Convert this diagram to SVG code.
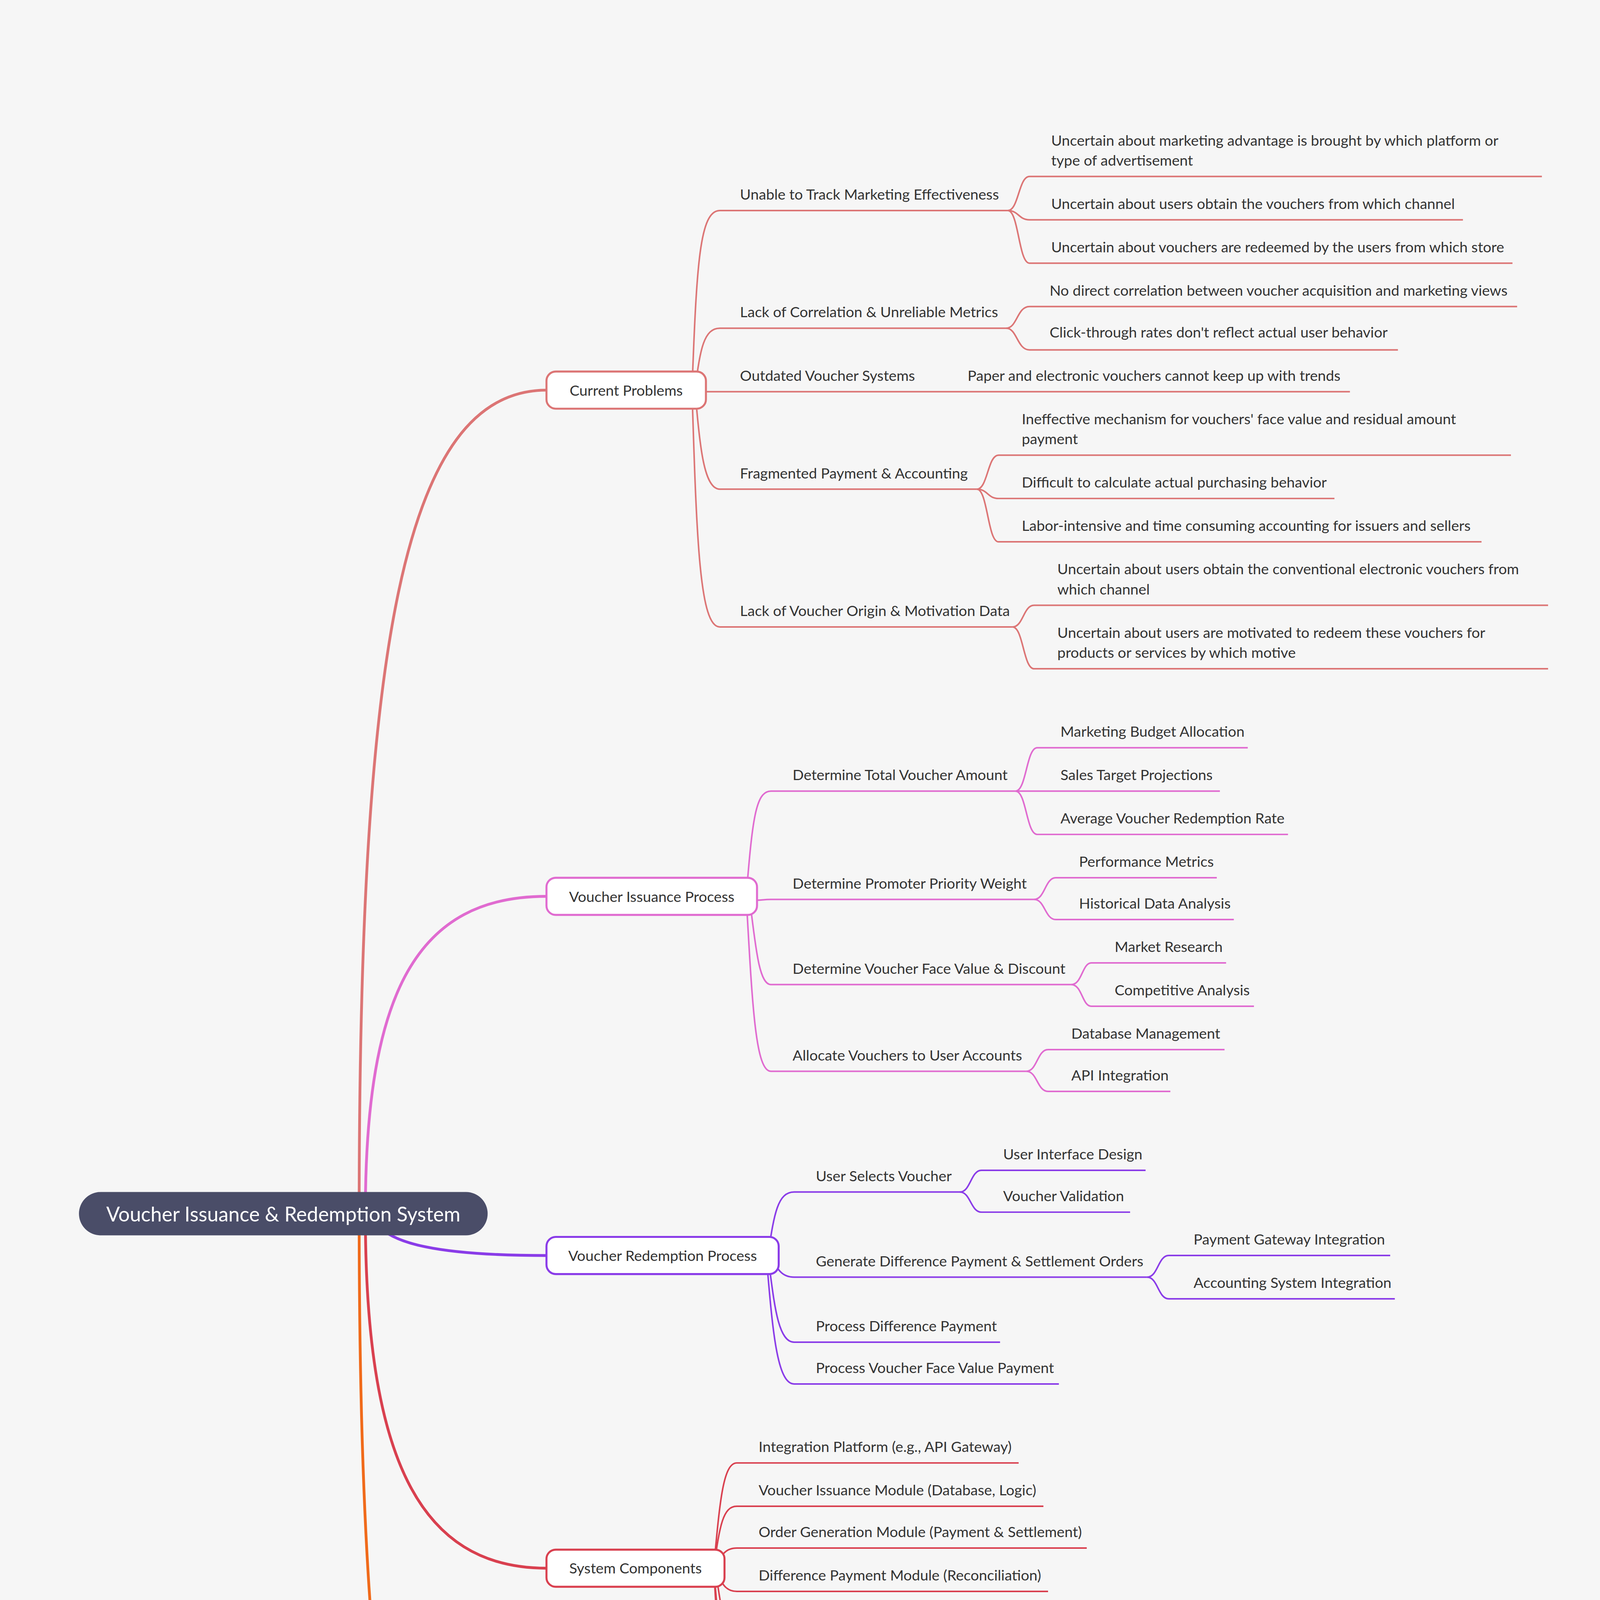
<svg xmlns="http://www.w3.org/2000/svg" width="4732" height="6216" viewBox="0 0 4732 6216">
<style>
text{font-family:Lato,"Open Sans","Liberation Sans",sans-serif;font-size:9.5px;fill:#333}
.c path{fill:none;stroke-width:1}
.b rect{fill:#fff;stroke-width:1.3}
.r1{stroke:#dc7575}.r2{stroke:#e06bd0}.r3{stroke:#8a3ce8}.r4{stroke:#d9404f}.r5{stroke:#f06a1a}
</style>
<rect width="4732" height="6216" fill="#f6f6f6"/>
<g transform="scale(3.9631)">
<g id="connectors" class="c">
<path class="r1" style="stroke-width:1.8" d="M232 784 C232 420 260 252 353 252"/>
<path class="r2" style="stroke-width:1.8" d="M236 784 C236 640 270 579 353 579"/>
<path class="r3" style="stroke-width:1.8" d="M240 784 C245 805 290 811 353 811"/>
<path class="r4" style="stroke-width:1.8" d="M236 784 C236 940 270 1013 353 1013"/>
<path class="r5" style="stroke-width:1.8" d="M232 784 C232 1140 260 1313 353 1313"/>
<g class="r1">
<path d="M447 252 C450 170 452 136 465 136 L651 136"/>
<path d="M449 252 C452 225 455 212 465 212 L650 212"/>
<path d="M456 253 L600 253 L610 253 L872 253"/>
<path d="M449 252 C452 290 455 316 465 316 L631 316"/>
<path d="M447 252 C450 350 452 405 465 405 L654 405"/>
<path d="M651 136 C658 136 658 114 665 114 L996 114"/>
<path d="M651 136 C658 136 658 142 665 142 L945 142"/>
<path d="M651 136 C658 136 658 170 665 170 L977 170"/>
<path d="M650 212 C657 212 657 198 665 198 L980 198"/>
<path d="M650 212 C657 212 657 226 665 226 L903 226"/>
<path d="M631 316 C638 316 638 294 645 294 L976 294"/>
<path d="M631 316 C638 316 638 322 645 322 L862 322"/>
<path d="M631 316 C638 316 638 350 645 350 L957 350"/>
<path d="M654 405 C661 405 661 391 668 391 L1000 391"/>
<path d="M654 405 C661 405 661 432 668 432 L1000 432"/>
</g>
<g class="r2">
<path d="M482 579 C486 530 488 511 498 511 L656 511"/>
<path d="M484 579 C488 583 490 581 498 581 L668 581"/>
<path d="M484 579 C488 610 490 636 498 636 L692 636"/>
<path d="M482 579 C486 650 488 692 498 692 L663 692"/>
<path d="M656 511 C663 511 663 483 670 483 L806 483"/>
<path d="M656 511 C663 511 663 511 670 511 L788 511"/>
<path d="M656 511 C663 511 663 539 670 539 L832 539"/>
<path d="M668 581 C675 581 675 567 682 567 L786 567"/>
<path d="M668 581 C675 581 675 594 682 594 L797 594"/>
<path d="M692 636 C699 636 699 622 705 622 L792 622"/>
<path d="M692 636 C699 636 699 650 705 650 L810 650"/>
<path d="M663 692 C670 692 670 678 677 678 L791 678"/>
<path d="M663 692 C670 692 670 705 677 705 L756 705"/>
</g>
<g class="r3">
<path d="M496 811 C500 785 502 770 513 770 L620 770"/>
<path d="M498 811 C502 820 505 825 513 825 L741 825"/>
<path d="M496 811 C500 840 502 867 513 867 L646 867"/>
<path d="M495 811 C499 860 502 894 513 894 L684 894"/>
<path d="M620 770 C627 770 627 756 634 756 L740 756"/>
<path d="M620 770 C627 770 627 783 634 783 L730 783"/>
<path d="M741 825 C748 825 748 811 755 811 L898 811"/>
<path d="M741 825 C748 825 748 839 755 839 L901 839"/>
</g>
<g class="r4">
<path d="M461 1013 C465 970 467 945 476 945 L658 945"/>
<path d="M461 1013 C465 985 467 973 476 973 L674 973"/>
<path d="M462 1013 C466 1005 468 1000 476 1000 L702 1000"/>
<path d="M462 1013 C466 1022 468 1028 476 1028 L677 1028"/>
<path d="M462 1013 C466 1040 468 1056 476 1056 L685 1056"/>
<path d="M461 1013 C465 1060 467 1084 476 1084 L705 1084"/>
<path d="M461 1013 C465 1080 467 1111 476 1111 L713 1111"/>
</g>
<g class="r5">
<path d="M408 1313 C412 1220 414 1176 424 1176 L645 1176"/>
<path d="M410 1313 C414 1295 416 1287 424 1287 L651 1287"/>
<path d="M409 1313 C413 1350 415 1384 424 1384 L558 1384"/>
<path d="M408 1313 C412 1370 415 1412 424 1412 L633 1412"/>
<path d="M408 1313 C412 1390 415 1439 424 1439 L619 1439"/>
<path d="M408 1313 C412 1410 415 1467 424 1467 L612 1467"/>
<path d="M408 1313 C412 1430 415 1495 424 1495 L670 1495"/>
<path d="M645 1176 C652 1176 652 1162 660 1162 L717 1162"/>
<path d="M645 1176 C652 1176 652 1190 660 1190 L717 1190"/>
<path d="M651 1287 C658 1287 658 1217 665 1217 L840 1217"/>
<path d="M651 1287 C658 1287 658 1245 665 1245 L811 1245"/>
<path d="M651 1287 C658 1287 658 1273 665 1273 L935 1273"/>
<path d="M935 1273 L945 1273 L1096 1273"/>
<path d="M651 1287 C658 1287 658 1301 665 1301 L800 1301"/>
<path d="M651 1287 C658 1287 658 1328 665 1328 L762 1328"/>
<path d="M651 1287 C658 1287 658 1356 665 1356 L871 1356"/>
</g>
</g>
<g id="root"><rect x="51" y="770" width="264" height="28" rx="14" fill="#4a4d68"/><text x="183" y="789" text-anchor="middle" style="fill:#fff;font-size:13px">Voucher Issuance &amp; Redemption System</text></g>
<g id="b1" class="b"><rect class="r1" x="353" y="240" width="103" height="24" rx="6"/><text x="404.5" y="255.5" text-anchor="middle">Current Problems</text></g>
<g id="b2" class="b"><rect class="r2" x="353" y="567" width="136" height="24" rx="6"/><text x="421" y="582.5" text-anchor="middle">Voucher Issuance Process</text></g>
<g id="b3" class="b"><rect class="r3" x="353" y="799" width="150" height="24" rx="6"/><text x="428" y="814.5" text-anchor="middle">Voucher Redemption Process</text></g>
<g id="b4" class="b"><rect class="r4" x="353" y="1001" width="115" height="24" rx="6"/><text x="410.5" y="1016.5" text-anchor="middle">System Components</text></g>
<g id="b5" class="b"><rect class="r5" x="353" y="1301" width="63" height="24" rx="6"/><text x="384.5" y="1316.5" text-anchor="middle">Benefits</text></g>
<g id="labels">
<text x="478" y="129">Unable to Track Marketing Effectiveness</text>
<text x="679" y="94">Uncertain about marketing advantage is brought by which platform or</text>
<text x="679" y="107">type of advertisement</text>
<text x="679" y="135">Uncertain about users obtain the vouchers from which channel</text>
<text x="679" y="163">Uncertain about vouchers are redeemed by the users from which store</text>
<text x="478" y="205">Lack of Correlation &amp; Unreliable Metrics</text>
<text x="678" y="191">No direct correlation between voucher acquisition and marketing views</text>
<text x="678" y="218">Click-through rates don't reflect actual user behavior</text>
<text x="478" y="246">Outdated Voucher Systems</text>
<text x="625" y="246">Paper and electronic vouchers cannot keep up with trends</text>
<text x="478" y="309">Fragmented Payment &amp; Accounting</text>
<text x="660" y="274">Ineffective mechanism for vouchers' face value and residual amount</text>
<text x="660" y="287">payment</text>
<text x="660" y="315">Difficult to calculate actual purchasing behavior</text>
<text x="660" y="343">Labor-intensive and time consuming accounting for issuers and sellers</text>
<text x="478" y="398">Lack of Voucher Origin &amp; Motivation Data</text>
<text x="683" y="371">Uncertain about users obtain the conventional electronic vouchers from</text>
<text x="683" y="384">which channel</text>
<text x="683" y="412">Uncertain about users are motivated to redeem these vouchers for</text>
<text x="683" y="425">products or services by which motive</text>
<text x="512" y="504">Determine Total Voucher Amount</text>
<text x="685" y="476">Marketing Budget Allocation</text>
<text x="685" y="504">Sales Target Projections</text>
<text x="685" y="532">Average Voucher Redemption Rate</text>
<text x="512" y="574">Determine Promoter Priority Weight</text>
<text x="697" y="560">Performance Metrics</text>
<text x="697" y="587">Historical Data Analysis</text>
<text x="512" y="629">Determine Voucher Face Value &amp; Discount</text>
<text x="720" y="615">Market Research</text>
<text x="720" y="643">Competitive Analysis</text>
<text x="512" y="685">Allocate Vouchers to User Accounts</text>
<text x="692" y="671">Database Management</text>
<text x="692" y="698">API Integration</text>
<text x="527" y="763">User Selects Voucher</text>
<text x="648" y="749">User Interface Design</text>
<text x="648" y="776">Voucher Validation</text>
<text x="527" y="818">Generate Difference Payment &amp; Settlement Orders</text>
<text x="771" y="804">Payment Gateway Integration</text>
<text x="771" y="832">Accounting System Integration</text>
<text x="527" y="860">Process Difference Payment</text>
<text x="527" y="887">Process Voucher Face Value Payment</text>
<text x="490" y="938">Integration Platform (e.g., API Gateway)</text>
<text x="490" y="966">Voucher Issuance Module (Database, Logic)</text>
<text x="490" y="993">Order Generation Module (Payment &amp; Settlement)</text>
<text x="490" y="1021">Difference Payment Module (Reconciliation)</text>
<text x="490" y="1049">Voucher Payment Module (Payment Gateway)</text>
<text x="490" y="1077">Communication Module (Email, SMS Notifications)</text>
<text x="490" y="1104">Verification &amp; Conversion Module (Fraud Prevention)</text>
<text x="438" y="1169">Instant Sale Promotions with Flexible Budgeting</text>
<text x="674" y="1155">new node</text>
<text x="674" y="1183">new node</text>
<text x="438" y="1280">Simplified Financial Compliance &amp; Reduced Costs</text>
<text x="680" y="1210">Reduction in financial law complexity</text>
<text x="680" y="1238">Prevention of additional waste</text>
<text x="680" y="1266">Immediate payment authorization via virtual credit cards</text>
<text x="953" y="1266">Payment is recieved in a few days</text>
<text x="680" y="1294">Simplified risk management</text>
<text x="680" y="1321">Lower overall costs</text>
<text x="680" y="1349">Enhanced voucher redemption management</text>
<text x="438" y="1377">Seamless Integration via API</text>
<text x="438" y="1405">Real-Time Marketing &amp; User Behavior Tracking</text>
<text x="438" y="1432">Referral Vouchers &amp; Performance Analytics</text>
<text x="438" y="1460">Big Data Insights for Marketing Strategies</text>
<text x="438" y="1488">Flexible Payment Gateway for Promoter Trust &amp; Loyalty</text>
</g>
</g>
</svg>
